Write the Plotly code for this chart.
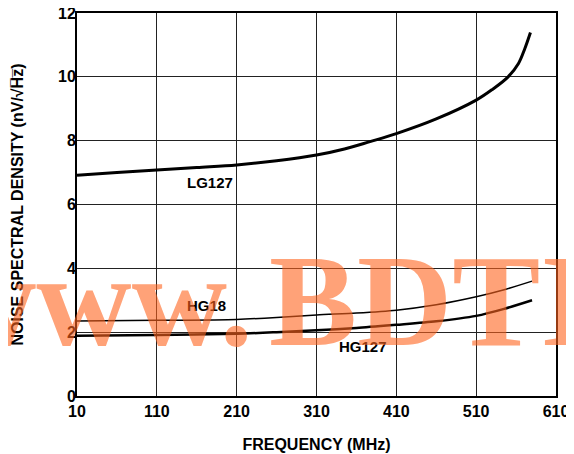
import plotly.graph_objects as go

# LG127 curve
lg127_f = [10, 60, 110, 160, 210, 260, 310, 345, 377, 410, 460, 510, 530, 550, 563, 571, 578]
lg127_v = [6.92, 7.0, 7.08, 7.16, 7.24, 7.37, 7.55, 7.74, 7.97, 8.22, 8.68, 9.27, 9.6, 10.0, 10.42, 10.89, 11.39]

# HG18 curve
hg18_f = [10, 110, 210, 260, 310, 360, 410, 460, 510, 545, 580]
hg18_v = [2.35, 2.37, 2.40, 2.46, 2.54, 2.60, 2.69, 2.86, 3.11, 3.33, 3.60]

# HG127 curve
hg127_f = [10, 110, 210, 260, 310, 360, 410, 460, 510, 545, 580]
hg127_v = [1.89, 1.91, 1.95, 2.0, 2.06, 2.13, 2.23, 2.34, 2.51, 2.73, 3.0]

x_ticks = [10, 110, 210, 310, 410, 510, 610]
y_ticks = [0, 2, 4, 6, 8, 10, 12]

font_family = "Liberation Sans, Arial, sans-serif"
wm_font = dict(family="Liberation Serif, Times New Roman, serif", size=132, color="rgba(255,100,30,0.6)")

fig = go.Figure()
fig.add_trace(go.Scatter(x=lg127_f, y=lg127_v, mode="lines", line=dict(color="black", width=3, shape="spline", smoothing=1)))
fig.add_trace(go.Scatter(x=hg18_f, y=hg18_v, mode="lines", line=dict(color="black", width=1.5, shape="spline", smoothing=0.8)))
fig.add_trace(go.Scatter(x=hg127_f, y=hg127_v, mode="lines", line=dict(color="black", width=2.5, shape="spline", smoothing=0.8)))

labels = [("LG127", 177, 6.68), ("HG18", 172, 2.85), ("HG127", 368, 1.55)]
for t, x, y in labels:
    fig.add_annotation(x=x, y=y, text="<b>%s</b>" % t, showarrow=False,
                       font=dict(family=font_family, size=15, color="black"))

fig.add_annotation(xref="paper", yref="paper", x=0.3716, y=0.249, xanchor="right", yanchor="middle",
                   text="<b>www.</b>", showarrow=False, font=wm_font)
fig.add_annotation(xref="paper", yref="paper", x=0.396, y=0.249, xanchor="left", yanchor="middle",
                   text="<b>BDTIC.com</b>", showarrow=False, font=wm_font)

axis_common = dict(showgrid=True, gridcolor="#222", gridwidth=1, zeroline=False,
                   showline=True, linecolor="black", linewidth=2, mirror=True,
                   ticks="", ticklabeloverflow="allow",
                   tickfont=dict(family=font_family, size=16, color="black"))

fig.update_xaxes(range=[10, 610], tickvals=x_ticks, ticktext=["<b>%d</b>" % v for v in x_ticks],
                 title=dict(text="<b>FREQUENCY (MHz)</b>", font=dict(family=font_family, size=16, color="black"), standoff=20),
                 **axis_common)
fig.update_yaxes(range=[0, 12], tickvals=y_ticks, ticktext=["<b>%d</b>" % v for v in y_ticks],
                 ticklabelstandoff=-4,
                 title=dict(text="<b>NOISE SPECTRAL DENSITY (nV/√H\u0305z\u0305)</b>",
                            font=dict(family=font_family, size=16, color="black"), standoff=30),
                 **axis_common)

fig.update_layout(width=566, height=446, margin=dict(l=69, r=18, t=5, b=58, autoexpand=False),
                  plot_bgcolor="white", paper_bgcolor="white", showlegend=False)

fig.write_html("out.html")
